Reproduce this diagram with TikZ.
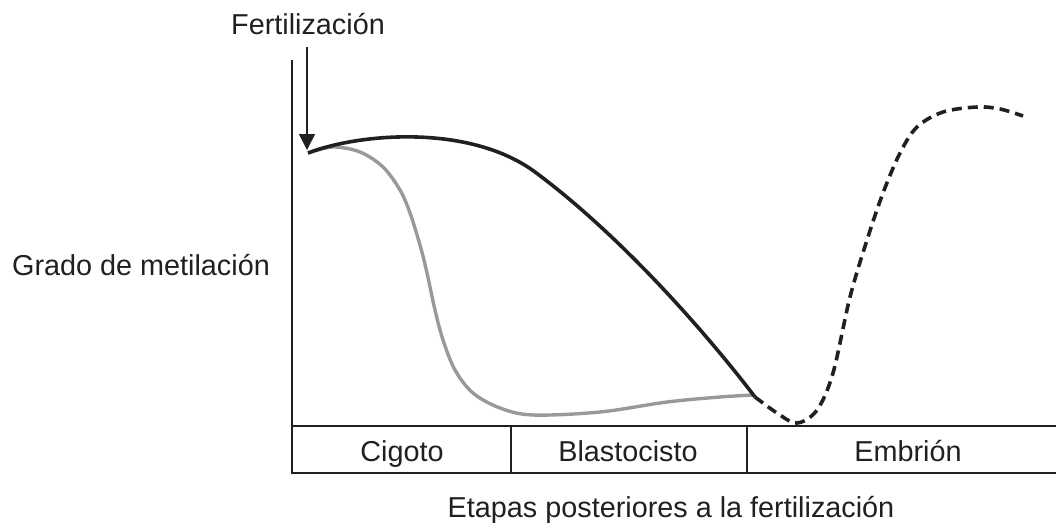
\documentclass[tikz,border=0pt]{standalone}
\usepackage{fontspec}
\setmainfont{Liberation Sans}
\usetikzlibrary{arrows.meta}
\definecolor{ink}{HTML}{231F20}
\definecolor{graycurve}{HTML}{999999}
\tikzset{
  lbl/.style={font=\fontsize{28.8}{34}\selectfont, text=ink, inner sep=0pt},
  frame/.style={draw=ink, line width=1.5pt},
  blackcurve/.style={draw=ink, line width=3.6pt, line cap=butt},
  graystyle/.style={draw=graycurve, line width=3.4pt},
  dashcurve/.style={draw=ink, line width=3.6pt, dash pattern=on 10pt off 6pt},
}
\begin{document}
\begin{tikzpicture}[x=1pt,y=-1pt]
\useasboundingbox (0,0) rectangle (1056,525);
% axis and table
\coordinate (axtop) at (292,60);
\coordinate (axbot) at (292,473);
\draw[frame] (axtop) -- (axbot);
\draw[frame] (291,426) -- (1056,426);
\draw[frame] (291,473) -- (1056,473);
\draw[frame] (511,426) -- (511,473);
\draw[frame] (747,426) -- (747,473);
% labels
\node[lbl, anchor=base] (fert) at (308,34) {Fertilización};
\node[lbl, anchor=base] (grado) at (141,275) {Grado de metilación};
\node[lbl, anchor=base] (cig) at (402,461) {Cigoto};
\node[lbl, anchor=base] (bla) at (628,461) {Blastocisto};
\node[lbl, anchor=base] (emb) at (908,461) {Embrión};
\node[lbl, anchor=base] (etapas) at (671,517) {Etapas posteriores a la fertilización};
% arrow
\coordinate (arrtop) at (307,47);
\coordinate (start) at (308,152);
\draw[draw=ink, line width=1.5pt, -{Triangle[width=16pt,length=16pt]}] (arrtop) -- (307,150);
% gray curve
\draw[graystyle] plot[smooth, tension=0.55] coordinates {(308,153) (333,147) (360,152) (383,167) (400,190) (410,213) (420,245) (427,273) (435,310) (443,340) (455,370) (473,393) (500,408) (533,415) (600,412) (667,402) (720,397) (753,395)};
% black curve
\draw[blackcurve] (308,153) .. controls (360,133) and (470,124) .. (535,172) .. controls (616,232) and (700,325) .. (755,397);
% dashed curve
\draw[dashcurve] plot[smooth, tension=0.55] coordinates {(755,397) (777,413) (797,423) (817,410) (833,373) (850,297) (867,240) (883,193) (900,153) (917,127) (943,112) (977,107) (1000,109) (1023,116)};
\end{tikzpicture}
\end{document}
